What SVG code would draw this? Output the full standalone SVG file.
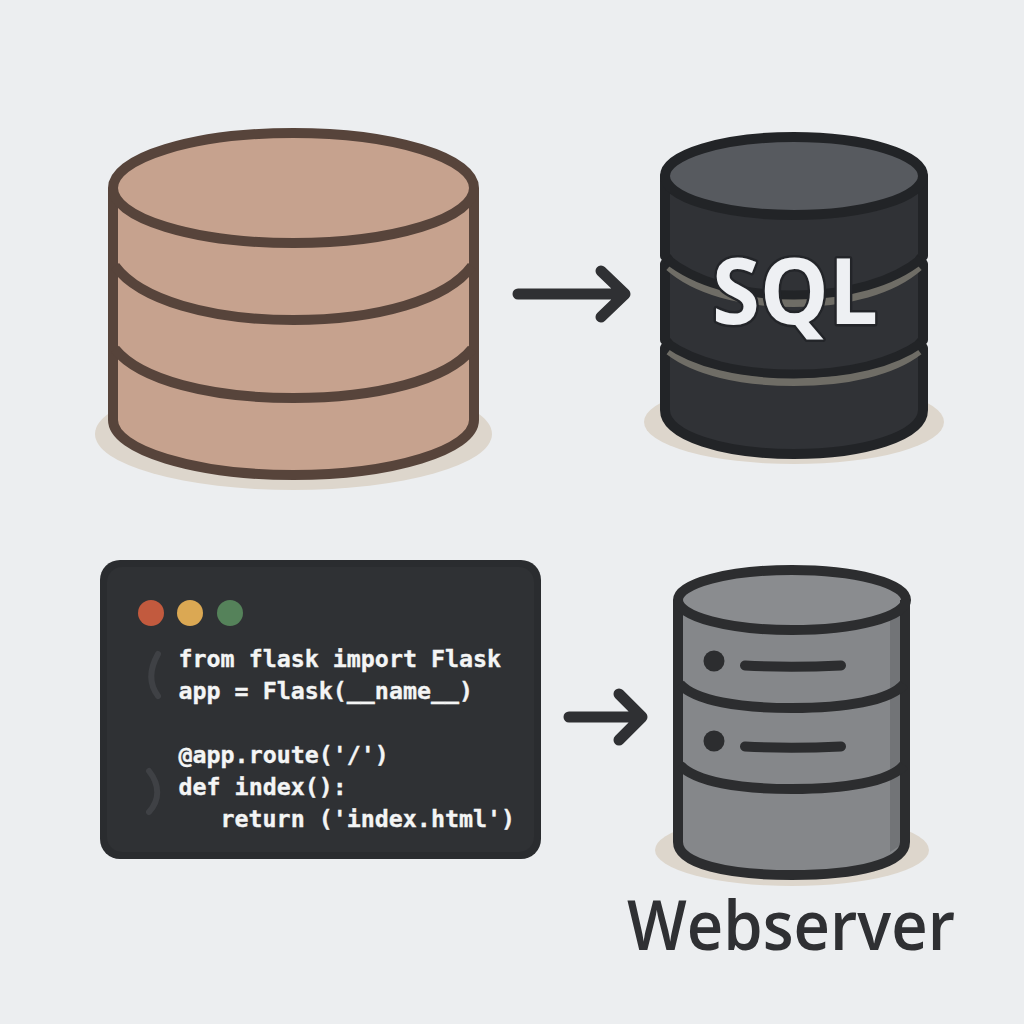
<svg xmlns="http://www.w3.org/2000/svg" width="1024" height="1024" viewBox="0 0 1024 1024">
<style>
.shadow{fill:#ddd6cc}
.code{font-family:"DejaVu Sans Mono","Liberation Mono",monospace;font-weight:700;font-size:23.3px;fill:#f4f5f5;stroke:#f4f5f5;stroke-width:.35px}
.arrow{fill:none;stroke:#2f3033;stroke-width:11;stroke-linecap:round;stroke-linejoin:round}
.brown{stroke:#57443b;stroke-width:10;fill:none}
.dk{stroke:#222427;stroke-width:9;fill:none}
.gr{stroke:#2c2d2f;stroke-width:10;fill:none}
</style>
<rect width="1024" height="1024" fill="#eceef0"/>

<g id="brown-cylinder">
<ellipse class="shadow" cx="293.500" cy="434" rx="198.500" ry="56"/>
<path d="M113 188 V420 C113 450 195 475 293.500 475 C392 475 474 450 474 420 V188 Z" fill="#c6a28e"/>
<ellipse cx="293.500" cy="188" rx="180.500" ry="55" fill="#c6a28e"/>
<path class="brown" d="M113 188 V420 C113 450 195 475 293.500 475 C392 475 474 450 474 420 V188"/>
<ellipse class="brown" cx="293.500" cy="188" rx="180.500" ry="55"/>
<path class="brown" d="M115 266 C140 300 210 320 293.500 320 C377 320 447 300 472 266"/>
<path class="brown" d="M115 349 C140 380 210 398 293.500 398 C377 398 447 380 472 349"/>
</g>

<g id="sql-cylinder">
<ellipse class="shadow" cx="794" cy="422" rx="150" ry="42"/>
<path d="M665 176 V256 L668 259 L665 264 V340 L668 343 L665 348 V410 C665 436 724 454 794 454 C864 454 923 436 923 410 V348 L920 343 L923 340 V264 L920 259 L923 256 V176 Z" fill="#303236" stroke="#222427" stroke-width="10" stroke-linejoin="round"/>
<ellipse cx="794" cy="176" rx="129" ry="39" fill="#575a5f" stroke="#222427" stroke-width="10"/>
<path d="M669 267 C695 290 740 303 794 303 C848 303 893 290 919 267" fill="none" stroke="#6f6d66" stroke-width="8"/>
<path d="M669 351 C695 371 740 382 794 382 C848 382 893 371 919 351" fill="none" stroke="#6f6d66" stroke-width="8"/>
<path class="dk" d="M667 259 C695 282 740 295 794 295 C848 295 893 282 921 259"/>
<path class="dk" d="M667 343 C695 363 740 374 794 374 C848 374 893 363 921 343"/>
<text x="795" y="324" text-anchor="middle" font-family="'Open Sans','Noto Sans',sans-serif" font-weight="700" font-size="92" fill="#eef0f3" stroke="#232529" stroke-width="5" stroke-linejoin="round" paint-order="stroke" textLength="166" lengthAdjust="spacingAndGlyphs">SQL</text>
</g>

<g id="code-window">
<rect x="100" y="560" width="441" height="299" rx="20" fill="#2a2c2f"/>
<rect x="107" y="567" width="427" height="285" rx="15" fill="#2f3134"/>
<circle cx="151" cy="613" r="13" fill="#c25a3e"/>
<circle cx="190" cy="613" r="13" fill="#dba853"/>
<circle cx="230" cy="613" r="13" fill="#55825a"/>
<path d="M158 654 C149 670 149 684 158 696" fill="none" stroke="#3f4145" stroke-width="6" stroke-linecap="round"/>
<path d="M149 771 C160 785 160 800 149 812" fill="none" stroke="#3f4145" stroke-width="6" stroke-linecap="round"/>
<text class="code" x="178.500" y="667">from flask import Flask</text>
<text class="code" x="178.500" y="699">app = Flask(__name__)</text>
<text class="code" x="178.500" y="763">@app.route('/')</text>
<text class="code" x="178.500" y="795">def index():</text>
<text class="code" x="220.500" y="827">return ('index.html')</text>
</g>

<g id="webserver-cylinder">
<ellipse class="shadow" cx="792" cy="850" rx="137" ry="36"/>
<path d="M678 600 V842 C678 864 728 875 792 875 C856 875 905 864 905 842 V600 Z" fill="#85878a"/>
<path d="M890 616 H901 V845 L890 852 Z" fill="#727477"/>
<ellipse cx="792" cy="600" rx="114" ry="30" fill="#8a8c8f"/>
<path class="gr" d="M678 600 V842 C678 864 728 875 792 875 C856 875 905 864 905 842 V600"/>
<ellipse class="gr" cx="792" cy="600" rx="114" ry="30"/>
<path class="gr" d="M680 684 C695 701 740 708 792 708 C844 708 890 701 904 684"/>
<path class="gr" d="M680 765 C695 782 740 789 792 789 C844 789 890 782 904 765"/>
<circle cx="714" cy="661" r="10.500" fill="#2c2d2f"/>
<circle cx="714" cy="741" r="10.500" fill="#2c2d2f"/>
<path d="M745 665.500 Q790 668 841 665.500" fill="none" stroke="#2c2d2f" stroke-width="10" stroke-linecap="round"/>
<path d="M745 746.500 Q790 749 841 746.500" fill="none" stroke="#2c2d2f" stroke-width="10" stroke-linecap="round"/>
<text x="791" y="950" text-anchor="middle" font-family="'Open Sans','Noto Sans',sans-serif" font-weight="600" font-size="68" fill="#2f3033" textLength="328" lengthAdjust="spacingAndGlyphs">Webserver</text>
</g>

<g id="connectors">
<path class="arrow" d="M518 294 H624 M601 271 L625 294 L601 317"/>
<path class="arrow" d="M569 717 H641 M619 694 L642 717 L619 740"/>
</g>
</svg>
